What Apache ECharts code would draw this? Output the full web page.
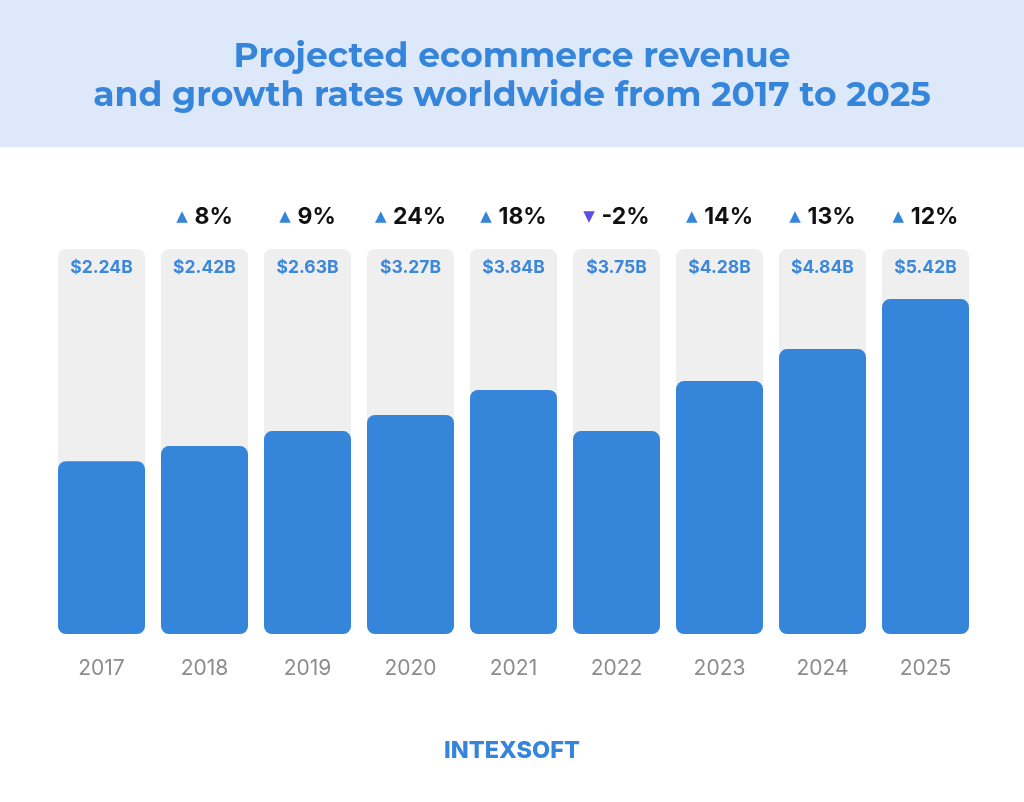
<!DOCTYPE html>
<html><head><meta charset="utf-8">
<script src="https://cdn.jsdelivr.net/npm/echarts@6/dist/echarts.min.js"></script>
<style>html,body{margin:0;padding:0;background:#fff}#c{width:1024px;height:802px}</style>
</head><body><div id="c"></div>
<script>
const years = ['2017','2018','2019','2020','2021','2022','2023','2024','2025'];
const revenueLabels = ['$2.24B','$2.42B','$2.63B','$3.27B','$3.84B','$3.75B','$4.28B','$4.84B','$5.42B'];
// bar heights as drawn in the picture (percent of the full grey column)
const barLevel = [44.9, 48.8, 52.7, 56.9, 63.4, 52.7, 65.7, 74.0, 87.0];
const growth = [null, 8, 9, 24, 18, -2, 14, 13, 12];
const columnMax = 100;

const blue = '#3585db';
const chart = echarts.init(document.getElementById('c'));
const fontMain = 'Inter, "Open Sans", sans-serif';

chart.setOption({
  animation: false,
  backgroundColor: '#ffffff',
  graphic: [
    { type: 'rect', shape: { x: 0, y: 0, width: 1024, height: 147 }, style: { fill: '#dde9fb' }, z: -10 },
    { type: 'text', left: 'center', top: 37,
      style: { text: 'Projected ecommerce revenue\nand growth rates worldwide from 2017 to 2025',
        fill: blue, font: '700 34.5px Montserrat, Inter, sans-serif', textAlign: 'center', lineHeight: 39 } },
    { type: 'text', left: 'center', top: 739,
      style: { text: 'INTEXSOFT', fill: blue, font: '800 23.5px Inter, sans-serif', textAlign: 'center' } }
  ],
  grid: { left: 50, right: 47, top: 249, bottom: 168 },
  xAxis: {
    type: 'category', data: years,
    axisLine: { show: false }, axisTick: { show: false },
    axisLabel: { color: '#8c8c8c', fontSize: 21, fontFamily: fontMain, margin: 24 }
  },
  yAxis: { type: 'value', min: 0, max: columnMax, show: false, splitLine: { show: false } },
  series: [
    {
      type: 'bar', barWidth: 87, barGap: '-100%', silent: true, z: 1,
      data: years.map(() => columnMax),
      itemStyle: { color: '#efefef', borderRadius: 8 },
      label: { show: true, position: 'insideTop', distance: 10,
        formatter: p => revenueLabels[p.dataIndex],
        color: '#3a87db', fontSize: 17.5, fontWeight: 'bold', fontFamily: fontMain }
    },
    {
      type: 'bar', barWidth: 87, barGap: '-100%', z: 2,
      data: barLevel,
      itemStyle: { color: blue, borderRadius: 8 }
    },
    {
      type: 'bar', barWidth: 87, barGap: '-100%', z: 3, silent: true,
      data: years.map(() => columnMax),
      itemStyle: { color: 'rgba(0,0,0,0)' },
      label: { show: true, position: 'top', distance: 20,
        formatter: p => {
          const g = growth[p.dataIndex];
          if (g === null) return '';
          return g >= 0 ? '{up|▲}  {pct|' + g + '%}' : '{down|▼}  {pct|' + g + '%}';
        },
        rich: {
          up: { color: blue, fontSize: 15, fontFamily: 'DejaVu Sans' },
          down: { color: '#5b4ee0', fontSize: 15, fontFamily: 'DejaVu Sans' },
          pct: { color: '#111111', fontSize: 23, fontWeight: 'bold', fontFamily: fontMain }
        }
      }
    }
  ]
});
</script></body></html>
